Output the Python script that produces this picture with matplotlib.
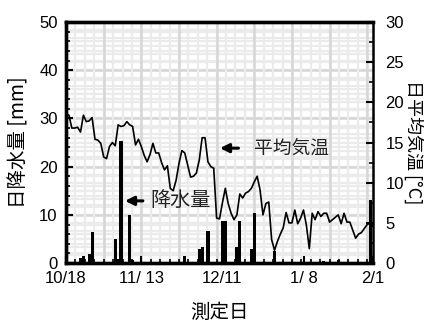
import matplotlib
matplotlib.use("Agg")
import matplotlib.pyplot as plt
import numpy as np

plt.rcParams['font.family'] = ['Liberation Sans', 'Noto Sans CJK JP', 'DejaVu Sans']
jp = ['Noto Sans CJK JP', 'DejaVu Sans']

# 日平均気温 [°C]  (10/18 を 0 日目とした毎日の値)
temp = [18.6, 18.4, 16.8, 16.8, 16.9, 16.3, 18.4, 17.6, 17.7, 18.1,
        15.4, 15.3, 14.9, 13.2, 13.0, 14.5, 15.0, 14.6, 17.2, 17.0,
        17.1, 17.6, 17.2, 17.0, 14.7, 15.4, 14.5, 13.4, 12.6, 13.5,
        14.9, 13.7, 13.7, 12.5, 11.6, 12.1, 9.3, 9.0, 10.3, 12.4,
        14.0, 13.7, 12.2, 10.7, 10.8, 11.2, 12.8, 15.6, 15.6, 12.6,
        12.0, 11.8, 5.6, 5.5, 7.5, 9.3, 7.4, 6.2, 5.4, 6.0,
        8.6, 8.1, 8.7, 8.9, 9.3, 10.1, 10.8, 9.1, 6.0, 7.4,
        7.6, 2.9, 1.6, 2.7, 3.6, 4.4, 6.3, 5.0, 5.0, 6.6,
        4.9, 5.6, 6.6, 4.7, 1.8, 6.2, 5.4, 6.4, 5.8, 6.2,
        6.2, 5.1, 5.4, 5.7, 6.0, 4.9, 6.2, 5.1, 5.1, 4.1,
        3.1, 3.6, 3.8, 4.3, 4.8, 5.0, 4.6]
days = np.arange(len(temp))

# 日降水量 [mm] (雨の日だけ)
rain_day = [5, 6, 8, 9, 17, 18, 19, 22, 23, 41, 46, 47, 49,
            54, 55, 59, 60, 64, 65, 72, 89, 94, 105]
rain_mm = [1.0, 1.5, 1.9, 6.4, 4.9, 0.9, 25.3, 9.9, 0.6, 1.5, 3.0, 3.4, 6.7,
           8.8, 8.8, 3.3, 8.8, 3.0, 10.4, 2.5, 0.4, 0.7, 13.0]

tick_days = [0, 26, 54, 82, 106]
tick_labels = ["10/18", "11/ 13", "12/11", "1/ 8", "2/1"]

fig = plt.figure(figsize=(4.26, 3.22), dpi=100)
ax = fig.add_axes([0.155, 0.183, 0.7206, 0.7487])
ax2 = ax.twinx()

# グリッド (左軸 2mm 毎, 右軸 1℃ 毎, 縦は 13 日毎)
for v in np.arange(2, 50, 2):
    ax.axhline(v, color='#ebebeb', lw=1.6, zorder=0)
for t in np.arange(1, 30, 1):
    ax.axhline(t * 50 / 30, color='#ebebeb', lw=1.6, zorder=0)
for v in np.arange(10, 50, 10):
    ax.axhline(v, color='#d6d6d6', lw=1.8, zorder=0)
for d in np.arange(3.25, 106, 3.25):
    ax.axvline(d, color='#ebebeb', lw=1.6, zorder=0)
for d in np.arange(13, 106, 13):
    ax.axvline(d, color='#d6d6d6', lw=1.8, zorder=0)

ax.bar(rain_day, rain_mm, width=1.1, color='black', zorder=2)
ax2.plot(days, temp, color='black', lw=1.2, zorder=3)

ax.set_xlim(0, 106)
ax.set_ylim(0, 50)
ax2.set_ylim(0, 30)

ax.set_xticks(tick_days)
ax.set_xticklabels(tick_labels)
ax.set_xticks(np.arange(3.25, 106, 3.25), minor=True)
ax.set_yticks(np.arange(0, 51, 10))
ax.set_yticks(np.arange(0, 51, 2), minor=True)
ax2.set_yticks(np.arange(0, 31, 5))
ax2.set_yticks(np.arange(0, 31, 2.5), minor=True)

ax.tick_params(axis='both', which='major', direction='in', length=5, width=1.5,
               labelsize=12, pad=6)
ax.tick_params(axis='both', which='minor', direction='in', length=3, width=1.2)
ax2.tick_params(axis='y', which='major', direction='in', length=5, width=1.5,
                labelsize=12, pad=9)
ax2.tick_params(axis='y', which='minor', direction='in', length=3, width=1.2)

for s in ['left', 'top', 'bottom']:
    ax.spines[s].set_linewidth(2.4)
    ax2.spines[s].set_linewidth(2.4)
ax2.spines['right'].set_linewidth(1.8)
ax.spines['right'].set_visible(False)

ax.set_ylabel("日降水量 [mm]", family=jp, fontsize=14, labelpad=7)
ax2.set_ylabel("日平均気温 [°C]", family=jp, fontsize=13, rotation=-90,
               labelpad=7, va='center')
ax.set_xlabel("測定日", family=jp, fontsize=14, labelpad=11)

# 矢印と注記
ax2.annotate("", xy=(52.2, 14.3), xytext=(60.5, 14.3),
             arrowprops=dict(arrowstyle='-|>', color='black', lw=2.2,
                             mutation_scale=13))
ax2.text(65.0, 14.3, "平均気温", family=jp, fontsize=13.5, va='center', ha='left',
         color='#222222')
ax.annotate("", xy=(19.4, 12.9), xytext=(27.5, 12.9),
            arrowprops=dict(arrowstyle='-|>', color='black', lw=2.2,
                            mutation_scale=13))
ax.text(29.0, 12.9, "降水量", family=jp, fontsize=14.5, va='center', ha='left',
        color='#222222', zorder=5)

fig.savefig("out.png", dpi=100)
